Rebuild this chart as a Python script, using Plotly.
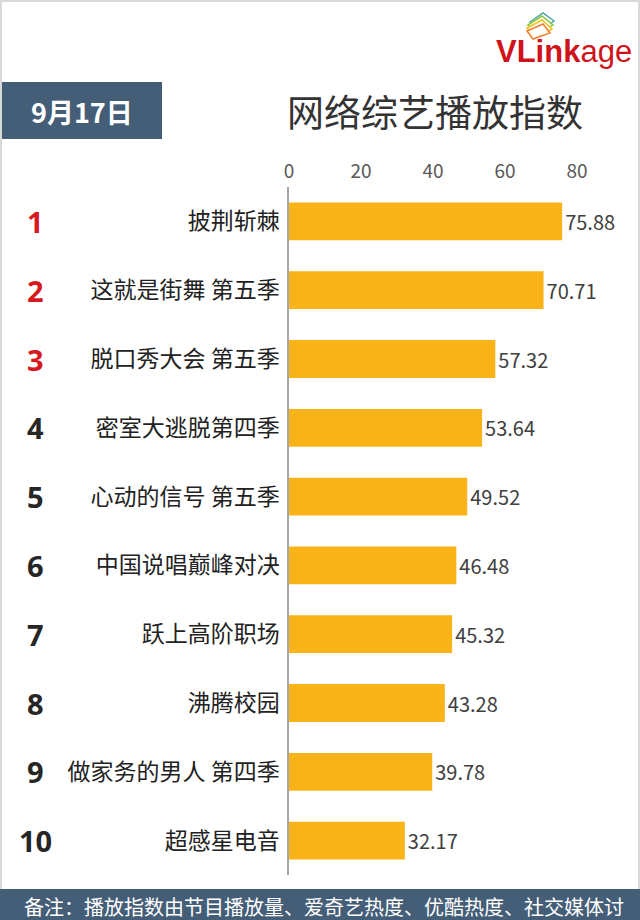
import plotly.graph_objects as go

# data
shows = ["披荆斩棘", "这就是街舞 第五季", "脱口秀大会 第五季", "密室大逃脱第四季",
         "心动的信号 第五季", "中国说唱巅峰对决", "跃上高阶职场", "沸腾校园",
         "做家务的男人 第四季", "超感星电音"]
scores = [75.88, 70.71, 57.32, 53.64, 49.52, 46.48, 45.32, 43.28, 39.78, 32.17]
ranks = ["1", "2", "3", "4", "5", "6", "7", "8", "9", "10"]
x_ticks = [0, 20, 40, 60, 80]

W, H = 640, 920
L, R, T, B = 289, 34, 187, 45
PW, PH = W - L - R, H - T - B

CJK = "Noto Sans CJK SC"


def px(x):
    return (x - L) / PW


def py(y):
    return (H - B - y) / PH


fig = go.Figure(go.Bar(
    x=scores,
    y=shows,
    orientation="h",
    marker=dict(color="#FBB31A", line=dict(width=0)),
    text=[f"{v:.2f}" for v in scores],
    textposition="outside",
    textfont=dict(family=CJK, size=20, color="#404040"),
    cliponaxis=False,
))

fig.update_layout(
    width=W, height=H,
    margin=dict(l=L, r=R, t=T, b=B),
    paper_bgcolor="white",
    plot_bgcolor="white",
    bargap=0.45,
    showlegend=False,
    font=dict(family=CJK),
)

fig.update_xaxes(
    side="top", range=[0, PW / 3.6],
    tickvals=x_ticks, showgrid=False, zeroline=False, showline=False,
    tickfont=dict(family=CJK, size=19, color="#595959"),
    ticklabelstandoff=4,
)
fig.update_yaxes(
    autorange="reversed", showgrid=False, zeroline=False,
    showline=True, linecolor="#A6A6A6", linewidth=1.5,
    tickfont=dict(family=CJK, size=23, color="#222222"),
    ticklabelstandoff=3,
)

# rank numbers
for i, (rk, name) in enumerate(zip(ranks, shows)):
    fig.add_annotation(
        x=px(35), xref="paper", y=name, yref="y",
        xanchor="center", yanchor="middle",
        text=f"<b>{rk}</b>", showarrow=False,
        font=dict(family="Open Sans", size=29, color="#D7191F" if i < 3 else "#262626"),
    )

shapes = [
    # outer frame
    dict(type="rect", xref="paper", yref="paper", x0=px(1), x1=px(639), y0=py(919), y1=py(1),
         line=dict(color="#D9D9D9", width=2), layer="below"),
    # date box
    dict(type="rect", xref="paper", yref="paper", x0=px(2), x1=px(162), y0=py(139), y1=py(82),
         fillcolor="#455E77", line=dict(width=0)),
    # footer band
    dict(type="rect", xref="paper", yref="paper", x0=px(0), x1=px(640), y0=py(920), y1=py(889),
         fillcolor="#455E77", line=dict(width=0)),
]

# small logo cards
cards = [
    ([(530, 22), (543, 13), (554, 21), (541, 30)], "#4FA7A6"),
    ([(528, 25), (542, 16), (553, 25), (539, 34)], "#8CC63F"),
    ([(527, 28), (542, 20), (552, 29), (536, 37)], "#F2C21A"),
    ([(527, 31), (543, 24), (550, 33), (533, 39)], "#F07F2C"),
]
for pts, col in cards:
    path = "M " + " L ".join(f"{px(a)},{py(b)}" for a, b in pts) + " Z"
    shapes.append(dict(type="path", xref="paper", yref="paper", path=path,
                       line=dict(color=col, width=1.5), fillcolor="rgba(255,255,255,0.9)"))
fig.update_layout(shapes=shapes)

fig.add_annotation(x=px(82), y=py(111), xref="paper", yref="paper",
                   xanchor="center", yanchor="middle",
                   text="<b>9月17日</b>", showarrow=False,
                   font=dict(family=CJK, size=27, color="white"))
fig.add_annotation(x=px(435), y=py(111), xref="paper", yref="paper",
                   xanchor="center", yanchor="middle",
                   text="网络综艺播放指数", showarrow=False,
                   font=dict(family=CJK, size=37, color="#333333"))
fig.add_annotation(x=px(634), y=py(51), xref="paper", yref="paper",
                   xanchor="right", yanchor="middle",
                   text="<b>VLink</b>age", showarrow=False,
                   font=dict(family="Liberation Sans", size=31, color="#D0121B"))
fig.add_annotation(x=px(22), y=py(906), xref="paper", yref="paper",
                   xanchor="left", yanchor="middle",
                   text="备注：播放指数由节目播放量、爱奇艺热度、优酷热度、社交媒体讨",
                   showarrow=False,
                   font=dict(family=CJK, size=20, color="white"))

fig.write_html("out.html", config={"displayModeBar": False},
               post_script="document.body.style.margin='0';")
